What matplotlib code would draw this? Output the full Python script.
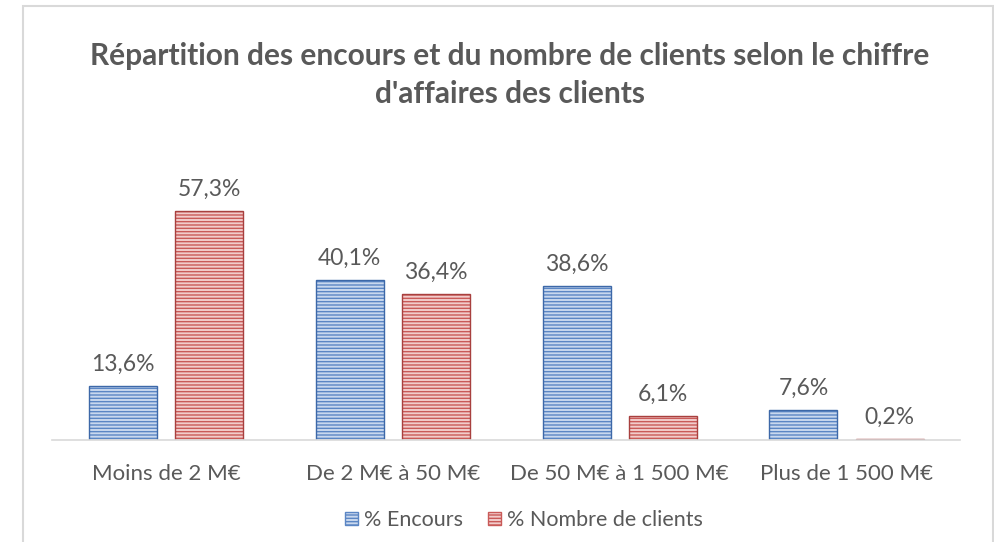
import matplotlib
matplotlib.use("Agg")
import matplotlib.pyplot as plt
from matplotlib.patches import Rectangle, Patch
import numpy as np

# chart data
categories = ["Moins de 2 M€", "De 2 M€ à 50 M€", "De 50 M€ à 1 500 M€", "Plus de 1 500 M€"]
encours = [13.6, 40.1, 38.6, 7.6]
nb_clients = [57.3, 36.4, 6.1, 0.2]
series_names = ["% Encours", "% Nombre de clients"]

plt.rcParams["font.family"] = ["Lato", "DejaVu Sans"]
plt.rcParams["hatch.linewidth"] = 1.0

TEXT = "#595959"
BLUE_FILL, BLUE_STRIPE, BLUE_EDGE = "#c9d8ee", "#5b86c4", "#3d68a8"
RED_FILL, RED_STRIPE, RED_EDGE = "#f2cccb", "#c95a58", "#a8403e"

fig = plt.figure(figsize=(9.95, 5.42), dpi=100)
W, H = 995, 542
ax = fig.add_axes([52.5 / W, (H - 440) / H, (960 - 52.5) / W, 240 / H])

x = np.arange(len(categories))
width = 0.30
off = 0.19


def striped_bars(xs, vals, fill, stripe, edge):
    ax.bar(xs, vals, width, color=fill, edgecolor=stripe, hatch="-----", linewidth=0)
    ax.bar(xs, vals, width, fill=False, edgecolor=edge, linewidth=1.0)


striped_bars(x - off, encours, BLUE_FILL, BLUE_STRIPE, BLUE_EDGE)
striped_bars(x + off, nb_clients, RED_FILL, RED_STRIPE, RED_EDGE)

for xs, vals in ((x - off, encours), (x + off, nb_clients)):
    for xi, v in zip(xs, vals):
        ax.annotate(f"{v:.1f}%".replace(".", ","), (xi, v), xytext=(0, 8),
                    textcoords="offset points", ha="center", va="bottom",
                    fontsize=16.5, color=TEXT)

ax.set_xlim(-0.5, 3.5)
ax.set_ylim(0, 60)
ax.set_xticks(x)
ax.set_xticklabels(categories, fontsize=16, color=TEXT)
ax.tick_params(axis="x", length=0, pad=17)
ax.set_yticks([])
for s in ("top", "right", "left"):
    ax.spines[s].set_visible(False)
ax.spines["bottom"].set_color("#d9d9d9")
ax.spines["bottom"].set_linewidth(1.2)

fig.text(510 / W, 1 - 75 / H,
         "Répartition des encours et du nombre de clients selon le chiffre\nd'affaires des clients",
         ha="center", va="center", fontsize=21.5, fontweight="bold", color=TEXT,
         linespacing=1.4)

handles = [
    Patch(facecolor=BLUE_FILL, edgecolor=BLUE_STRIPE, hatch="-----", label=series_names[0]),
    Patch(facecolor=RED_FILL, edgecolor=RED_STRIPE, hatch="-----", label=series_names[1]),
]
fig.legend(handles=handles, loc="center", bbox_to_anchor=(524 / W, 1 - 520 / H),
           ncol=2, frameon=False, fontsize=15.5, labelcolor=TEXT,
           handlelength=0.6, handleheight=0.6, handletextpad=0.25, columnspacing=1.2)

# outer chart frame
fig.patches.append(Rectangle((23 / W, -0.05), (993 - 23) / W, 1.05 - 6 / H,
                             transform=fig.transFigure, fill=False,
                             edgecolor="#d9d9d9", linewidth=1.5))

fig.savefig("out.png", dpi=100)
